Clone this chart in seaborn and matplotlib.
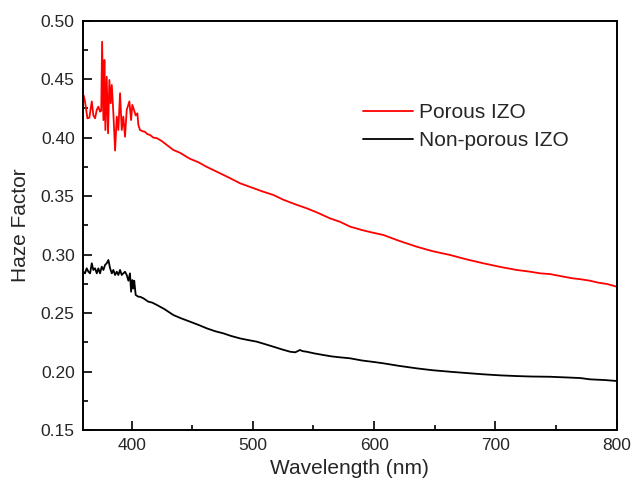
import pandas as pd
import seaborn as sns
import matplotlib.pyplot as plt
from matplotlib.ticker import MultipleLocator

# values
porous_x = [360.5, 361.6, 363.6, 365.2, 367.2, 368.5, 369.9, 371.3, 372.6, 374.0,
            375.0, 375.7, 376.8, 377.6, 378.4, 379.5, 380.6, 381.7, 382.8, 383.7,
            385.0, 386.4, 387.8, 389.1, 390.5, 391.9, 393.2, 394.6, 396.0, 398.2,
            399.6, 400.6, 402.0, 403.4, 404.8, 405.6, 407.0, 409, 411, 413,
            415.2, 418, 421, 425, 430, 434.4, 440, 448, 455, 462,
            470, 480, 489.4, 500, 508, 516.9, 525, 535, 544.4, 553,
            563.6, 572, 580, 590, 598, 607.6, 620, 635, 648, 662.6,
            676, 690, 704, 717.5, 728, 737, 745, 752, 759, 764,
            770, 778, 785, 792, 800]
porous_y = [0.436, 0.431, 0.4165, 0.417, 0.431, 0.419, 0.4165, 0.4237, 0.4265, 0.4222,
            0.423, 0.482, 0.415, 0.4664, 0.4065, 0.4521, 0.4037, 0.4493, 0.4294, 0.445,
            0.4208, 0.389, 0.418, 0.4065, 0.438, 0.4065, 0.418, 0.4008, 0.4237, 0.431,
            0.415, 0.428, 0.4237, 0.419, 0.4208, 0.4108, 0.4065, 0.4055, 0.405, 0.403,
            0.4023, 0.400, 0.3995, 0.397, 0.393, 0.3895, 0.387, 0.382, 0.379, 0.375,
            0.371, 0.366, 0.361, 0.357, 0.354, 0.351, 0.347, 0.343, 0.3396, 0.336,
            0.331, 0.328, 0.324, 0.321, 0.319, 0.3168, 0.312, 0.3068, 0.303, 0.2997,
            0.296, 0.2926, 0.2895, 0.2869, 0.2855, 0.284, 0.2834, 0.282, 0.2806, 0.2797,
            0.279, 0.2777, 0.276, 0.2749, 0.2726]

nonporous_x = [360.2, 361.6, 363.0, 364.4, 365.8, 367.2, 368.5, 369.9, 371.3, 372.6,
               374.0, 375.4, 376.8, 378.1, 379.5, 380.9, 382.3, 383.7, 385.0, 386.4,
               387.8, 389.1, 390.5, 391.9, 393.2, 394.6, 396.0, 397.4, 398.7, 399.6,
               400.6, 401.4, 402.2, 403.4, 405.6, 407, 409.7, 413.8, 417, 420.8,
               427, 434.4, 441, 448.2, 455, 462, 469, 475.7, 482, 489.4,
               496, 503.2, 510, 516.9, 524, 530.7, 535, 538.9, 541, 544.4,
               551, 558.1, 565, 571.9, 580, 590, 600, 607.6, 620, 635,
               648, 662.6, 676, 690, 704, 717.5, 730, 745, 759, 770,
               778, 790, 800]
nonporous_y = [0.2854, 0.284, 0.2883, 0.2854, 0.284, 0.2926, 0.2869, 0.2883, 0.284, 0.2883,
               0.284, 0.2897, 0.2869, 0.2911, 0.2926, 0.2954, 0.2883, 0.284, 0.2869, 0.2826,
               0.2854, 0.2826, 0.2869, 0.2826, 0.284, 0.2854, 0.2826, 0.2777, 0.284, 0.2683,
               0.2783, 0.271, 0.2777, 0.2655, 0.264, 0.264, 0.2627, 0.2598, 0.259, 0.257,
               0.2535, 0.2484, 0.2455, 0.2427, 0.240, 0.237, 0.2345, 0.2327, 0.2305, 0.2284,
               0.227, 0.2256, 0.2235, 0.2213, 0.219, 0.217, 0.2165, 0.2185, 0.2175, 0.217,
               0.2155, 0.2142, 0.213, 0.2122, 0.2114, 0.2095, 0.2082, 0.2071, 0.205, 0.2028,
               0.2012, 0.1999, 0.1988, 0.1977, 0.1968, 0.1962, 0.1958, 0.1956, 0.195, 0.1945,
               0.1934, 0.1928, 0.192]

labels = ["Porous IZO", "Non-porous IZO"]

df = pd.concat([
    pd.DataFrame({"Wavelength": porous_x, "Haze": porous_y, "Sample": labels[0]}),
    pd.DataFrame({"Wavelength": nonporous_x, "Haze": nonporous_y, "Sample": labels[1]}),
])

sns.set_theme(style="ticks")
plt.rcParams["font.family"] = ["Liberation Sans", "DejaVu Sans"]
plt.rcParams["xtick.direction"] = "in"
plt.rcParams["ytick.direction"] = "in"

fig = plt.figure(figsize=(6.34, 4.86), dpi=100)
ax = fig.add_axes([0.131, 0.115, 0.8417, 0.8425])
sns.lineplot(data=df, x="Wavelength", y="Haze", hue="Sample",
             palette={labels[0]: "#ff0000", labels[1]: "#000000"},
             estimator=None, sort=False, linewidth=1.3, ax=ax)

ax.set_xlim(360, 800)
ax.set_ylim(0.15, 0.50)
ax.xaxis.set_major_locator(MultipleLocator(100))
ax.xaxis.set_minor_locator(MultipleLocator(50))
ax.yaxis.set_major_locator(MultipleLocator(0.05))
ax.yaxis.set_minor_locator(MultipleLocator(0.025))
ax.yaxis.set_major_formatter(plt.FormatStrFormatter("%.2f"))
ax.tick_params(which="major", length=6.5, width=1.2, labelsize=12.5, color="black", pad=6)
ax.tick_params(which="minor", length=3.5, width=1.2, color="black")
ax.tick_params(top=False, right=False, which="both")
for s in ax.spines.values():
    s.set_linewidth(1.4)
    s.set_color("black")

ax.set_xlabel("Wavelength (nm)", fontsize=15, labelpad=4)
ax.set_ylabel("Haze Factor", fontsize=15, labelpad=8)

leg = ax.legend(loc="upper left", bbox_to_anchor=(0.5726, 0.788),
                bbox_transform=fig.transFigure, frameon=False, fontsize=15,
                handlelength=2.4, handletextpad=0.3, labelspacing=0.45,
                borderpad=0, borderaxespad=0, title=None)
for line in leg.get_lines():
    line.set_linewidth(1.3)

fig.savefig("out.png", dpi=100)
